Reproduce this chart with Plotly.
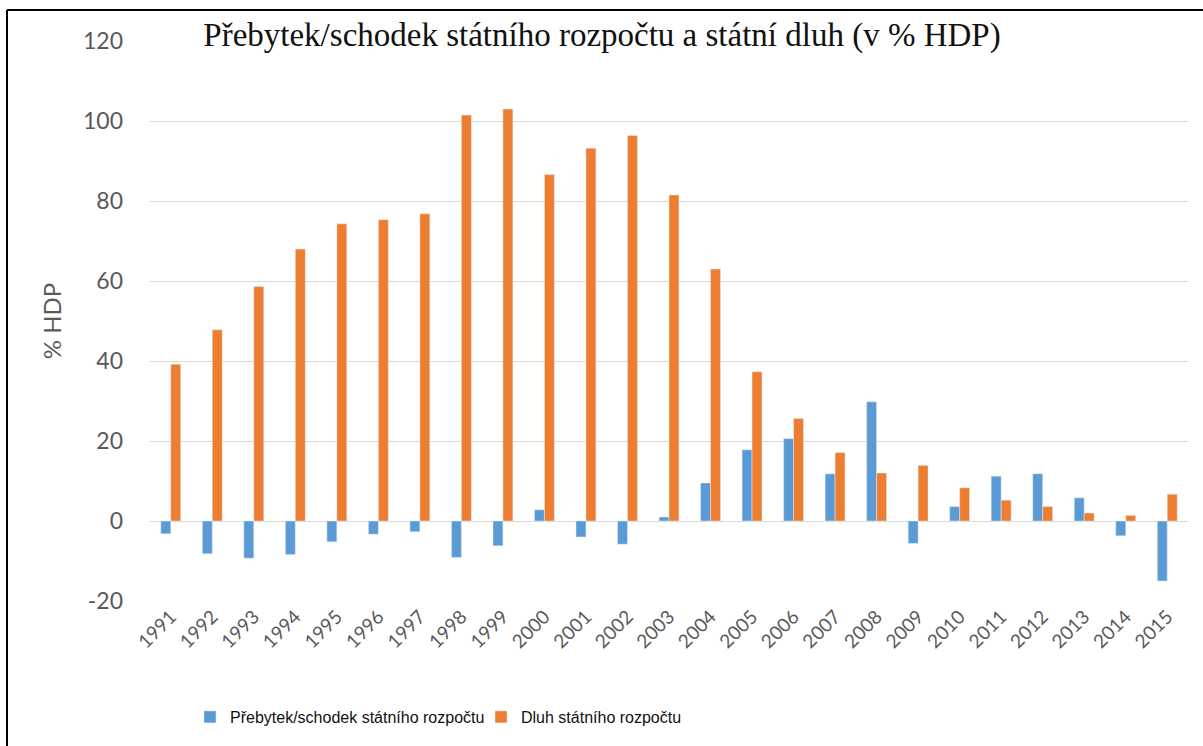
import plotly.graph_objects as go

years = [str(y) for y in range(1991, 2016)]
saldo = [-3.2, -8.2, -9.3, -8.4, -5.2, -3.3, -2.7, -9.1, -6.2, 2.8, -4.0, -5.8, 1.0,
         9.5, 17.8, 20.6, 11.8, 29.8, -5.6, 3.6, 11.2, 11.8, 5.8, -3.7, -15.0]
dluh = [39.2, 47.8, 58.6, 68.0, 74.3, 75.3, 76.8, 101.5, 103.0, 86.6, 93.2, 96.4, 81.5,
        63.0, 37.3, 25.6, 17.1, 12.0, 13.9, 8.3, 5.2, 3.6, 2.0, 1.4, 6.7]
y_ticks = [-20, 0, 20, 40, 60, 80, 100, 120]

title_text = "Přebytek/schodek státního rozpočtu a státní dluh (v % HDP)"
name_saldo = "Přebytek/schodek státního rozpočtu"
name_dluh = "Dluh státního rozpočtu"

W, H = 1203, 746
L, R, T, B = 150, 15, 41, 145
pw, ph = W - L - R, H - T - B

def px(x):
    return (x - L) / pw

def py(y):
    return (H - B - y) / ph

fig = go.Figure()
fig.add_trace(go.Bar(x=years, y=saldo, name=name_saldo, marker_color="#5B9BD5"))
fig.add_trace(go.Bar(x=years, y=dluh, name=name_dluh, marker_color="#ED7D31"))

fig.update_layout(
    width=W, height=H,
    margin=dict(l=L, r=R, t=T, b=B),
    paper_bgcolor="white", plot_bgcolor="white",
    barmode="group", bargap=0.52, bargroupgap=0,
    title=dict(text=title_text, x=602 / W, xanchor="center", xref="container",
               y=1 - 34 / H, yanchor="middle", yref="container",
               font=dict(family="Liberation Serif, Times New Roman, serif", size=33, color="#111111")),
    legend=dict(orientation="h", x=px(190), xanchor="left", y=py(717), yanchor="middle",
                font=dict(family="Liberation Sans, Arial", size=16, color="#111111"),
                itemwidth=30, tracegroupgap=0, entrywidth=246),
    showlegend=True,
    font=dict(family="Lato, Open Sans, sans-serif", color="#595959"),
)

fig.update_yaxes(range=[-20, 120], tickvals=y_ticks, ticktext=[str(v) for v in y_ticks],
                 showgrid=True, gridcolor="#D9D9D9", gridwidth=1,
                 zeroline=True, zerolinecolor="#D9D9D9", zerolinewidth=1,
                 showline=False, ticks="", ticklabelstandoff=26,
                 tickfont=dict(family="Lato, Open Sans, sans-serif", size=23, color="#595959"),
                 title=dict(text="% HDP", standoff=14,
                            font=dict(family="Lato, Open Sans, sans-serif", size=24, color="#595959")))
fig.update_xaxes(tickangle=-45, showgrid=False, showline=False, ticks="",
                 tickfont=dict(family="Lato, Open Sans, sans-serif", size=19, color="#595959"))

# outer frame (left and top edges of the original image border)
fig.add_shape(type="line", xref="paper", yref="paper", x0=px(7), x1=px(7), y0=py(H), y1=py(10),
              line=dict(color="black", width=2))
fig.add_shape(type="line", xref="paper", yref="paper", x0=px(7), x1=px(W), y0=py(10), y1=py(10),
              line=dict(color="black", width=2))

fig.write_html("out.html", config={"displayModeBar": False},
               post_script="document.body.style.margin='0px';")
